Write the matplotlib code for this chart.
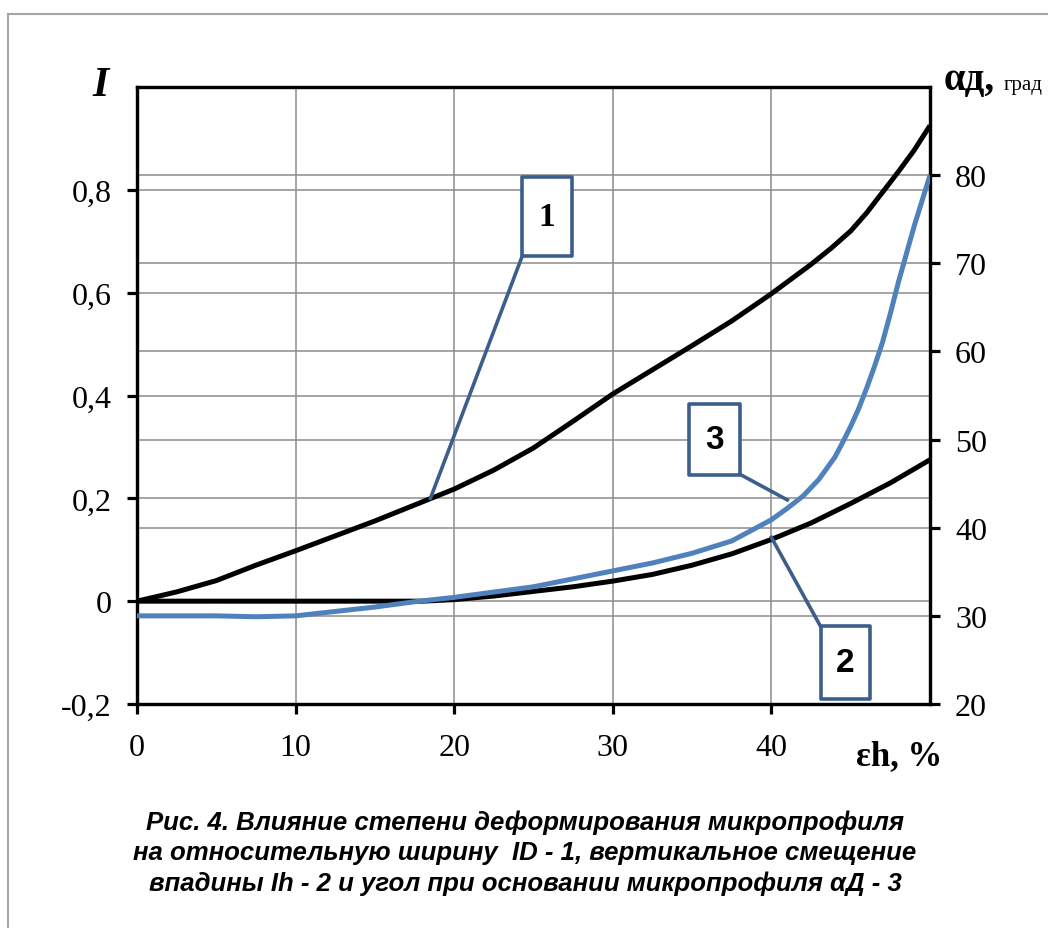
import numpy as np
import matplotlib.pyplot as plt
from matplotlib.ticker import FuncFormatter, FixedLocator
from matplotlib.patches import Rectangle
from matplotlib.lines import Line2D

# curve 1: ID (left axis)
eps_1 = [0, 2.5, 5, 7.5, 10, 12.5, 15, 17.5, 20, 22.5, 25, 27.5, 30, 32.5,
         35, 37.5, 40, 42.5, 43.75, 45, 46, 47, 48, 49, 50]
id_1 = [0, 0.018, 0.04, 0.07, 0.098, 0.127, 0.156, 0.187, 0.218, 0.255,
        0.298, 0.35, 0.403, 0.45, 0.497, 0.545, 0.598, 0.655, 0.686, 0.72,
        0.755, 0.795, 0.835, 0.877, 0.925]

# curve 2: Ih (left axis)
eps_2 = [0, 5, 10, 15, 18, 20, 22.5, 25, 27.5, 30, 32.5, 35, 37.5, 40,
         42.5, 45, 47.5, 50]
ih_2 = [0, 0, 0, 0, 0, 0.003, 0.01, 0.019, 0.028, 0.039, 0.052, 0.07,
        0.092, 0.12, 0.152, 0.19, 0.23, 0.275]

# curve 3: alpha_D, deg (right axis)
eps_3 = [0, 2.5, 5, 7.5, 10, 12.5, 15, 17.5, 20, 22.5, 25, 27.5, 30, 32.5,
         35, 37.5, 40, 41, 42, 43, 44, 44.5, 45, 45.5, 46, 46.5, 47, 47.5,
         48, 48.5, 49, 49.5, 50]
alpha_3 = [30, 30, 30, 29.9, 30, 30.5, 31.0, 31.6, 32.1, 32.7, 33.3, 34.2,
           35.1, 36.0, 37.1, 38.5, 40.9, 42.2, 43.6, 45.5, 48.0, 49.7, 51.5,
           53.5, 55.8, 58.3, 61.0, 64.3, 67.8, 71.0, 74.2, 77.1, 80]

left_ticks = [-0.2, 0, 0.2, 0.4, 0.6, 0.8]
right_ticks = [20, 30, 40, 50, 60, 70, 80]
x_ticks = [0, 10, 20, 30, 40]

caption = ("Рис. 4. Влияние степени деформирования микропрофиля\n"
           "на относительную ширину  ID - 1, вертикальное смещение\n"
           "впадины Ih - 2 и угол при основании микропрофиля αД - 3")

W, H = 1048, 929
SERIF = 'Liberation Serif'
SANS = 'Liberation Sans'
BOX_C = '#3c5e8b'
BLUE = '#4f81bd'
GRID_C = '#8c8c8c'

fig = plt.figure(figsize=(W / 100, H / 100), dpi=100)

# outer gray frame (only top and left visible)
fig.add_artist(Line2D([8 / W, 1.0], [1 - 15 / H, 1 - 15 / H], color='#a6a6a6', lw=1.5))
fig.add_artist(Line2D([8 / W, 8 / W], [0, 1 - 15 / H], color='#a6a6a6', lw=1.5))

ax = fig.add_axes([137 / W, 1 - 705 / H, 793 / W, 617 / H])
ax2 = ax.twinx()

ax.set_xlim(0, 50)
ax.set_ylim(-0.2, 1.0)
ax2.set_ylim(20, 90)

comma = FuncFormatter(lambda v, p: ('%g' % v).replace('.', ','))
ax.xaxis.set_major_locator(FixedLocator(x_ticks))
ax.yaxis.set_major_locator(FixedLocator(left_ticks))
ax.yaxis.set_major_formatter(comma)
ax2.yaxis.set_major_locator(FixedLocator(right_ticks))

for a in (ax, ax2):
    for s in a.spines.values():
        s.set_linewidth(2.3)
        s.set_color('black')
    a.tick_params(direction='out', length=7, width=2.3, labelsize=23,
                  pad=11)
    for lab in a.get_xticklabels() + a.get_yticklabels():
        lab.set_fontfamily(SERIF)
ax.tick_params(axis='x', pad=14)

ax.grid(True, color=GRID_C, lw=1.1)
ax2.grid(True, axis='y', color=GRID_C, lw=1.1)
ax.set_axisbelow(True)

# all curves drawn in ax2 so the right-axis grid stays underneath
style = dict(lw=3.6, solid_capstyle='butt', solid_joinstyle='round')
ax2.plot(eps_1, id_1, color='black', transform=ax.transData, zorder=3, **style)
ax2.plot(eps_2, ih_2, color='black', transform=ax.transData, zorder=3, **style)
ax2.plot(eps_3, alpha_3, color=BLUE, zorder=4, **style)

# numbered callouts (box in left-axis data coords)
callouts = [
    ('1', (24.3, 0.672, 3.1, 0.153), (24.3, 0.672), (18.5, 0.2), SERIF),
    ('3', (34.8, 0.245, 3.2, 0.139), (38.0, 0.247), (41.0, 0.197), SANS),
    ('2', (43.1, -0.19, 3.1, 0.141), (43.1, -0.049), (40.0, 0.124), SANS),
]
for txt, (bx, by, bw, bh), p0, p1, fam in callouts:
    ax2.add_patch(Rectangle((bx, by), bw, bh, transform=ax.transData,
                            facecolor='white', edgecolor=BOX_C, lw=2.6,
                            joinstyle='round', zorder=6))
    ax2.plot([p0[0], p1[0]], [p0[1], p1[1]], color=BOX_C, lw=2.6,
             transform=ax.transData, zorder=5)
    ax2.text(bx + bw / 2, by + bh / 2, txt, transform=ax.transData,
             ha='center', va='center', fontsize=24, fontweight='bold',
             family=fam, zorder=7)

# axis titles
fig.text(101 / W, 1 - 86 / H, 'I', fontsize=30, fontweight='bold',
         fontstyle='italic', family=SERIF, ha='center', va='center')
fig.text(944 / W, 1 - 90 / H, 'αд,', fontsize=28, fontweight='bold',
         family=SERIF, ha='left', va='baseline')
fig.text(1004 / W, 1 - 90 / H, 'град', fontsize=15, family=SERIF,
         ha='left', va='baseline')
fig.text(942 / W, 1 - 765 / H, 'εh, %', fontsize=25, fontweight='bold',
         family=SERIF, ha='right', va='baseline')

fig.text(525 / W, 1 - 853 / H, caption, fontsize=18.5, fontweight='bold',
         fontstyle='italic', family=SANS, ha='center', va='center',
         linespacing=1.32)

fig.savefig('out.png', dpi=100)
